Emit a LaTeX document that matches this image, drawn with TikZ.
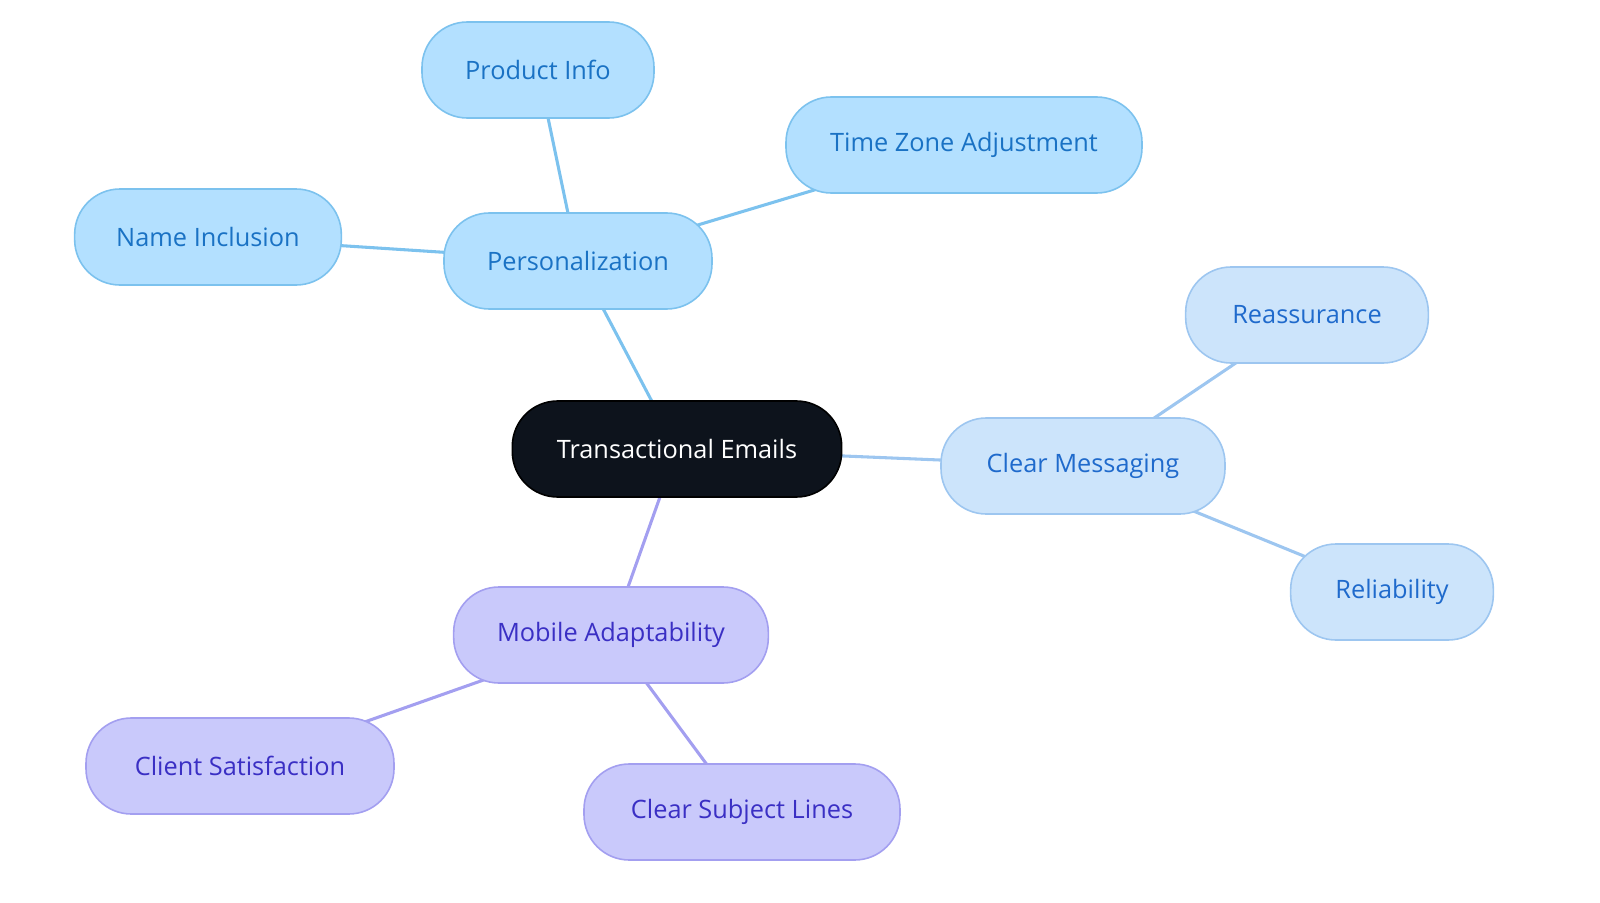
\documentclass[tikz,border=0pt]{standalone}
\usepackage{fontspec}
\setmainfont{Open Sans}
\usetikzlibrary{backgrounds}
\begin{document}
\begin{tikzpicture}[x=0.75pt,y=-0.75pt,
  base/.style={draw,line width=1.2pt,rounded corners=34pt,minimum height=72pt,font=\fontsize{19}{22}\selectfont,inner sep=0pt},
  bl/.style={base,fill=blueF,draw=blueD,text=blueT},
  lb/.style={base,fill=lbF,draw=lbD,text=lbT},
  pu/.style={base,fill=puF,draw=puD,text=puT},
  eb/.style={draw=blueD,line width=2.3pt},
  el/.style={draw=lbD,line width=2.3pt},
  ep/.style={draw=puD,line width=2.3pt}]
\definecolor{blueF}{HTML}{B3E0FF}\definecolor{blueD}{HTML}{7CC2EE}\definecolor{blueT}{HTML}{1A72C4}
\definecolor{lbF}{HTML}{CCE4FB}\definecolor{lbD}{HTML}{9DC6F0}\definecolor{lbT}{HTML}{1F6ACC}
\definecolor{puF}{HTML}{C9C9FB}\definecolor{puD}{HTML}{A39FF0}\definecolor{puT}{HTML}{3A2FC4}
\definecolor{teF}{HTML}{0D131C}
\useasboundingbox (0,0) rectangle (1600,903);
\node[base,fill=teF,draw=black,text=white,minimum width=247pt] (te) at (677,449) {Transactional Emails};
\node[bl,minimum width=201pt] (pe) at (578,261) {Personalization};
\node[bl,minimum width=174pt] (pi) at (538,70) {Product Info};
\node[bl,minimum width=267pt] (tz) at (964,145) {Time Zone Adjustment};
\node[bl,minimum width=200pt] (ni) at (208,237) {Name Inclusion};
\node[lb,minimum width=213pt] (cm) at (1083,466) {Clear Messaging};
\node[lb,minimum width=182pt] (re) at (1307,315) {Reassurance};
\node[lb,minimum width=152pt] (rl) at (1392,592) {Reliability};
\node[pu,minimum width=236pt] (ma) at (611,635) {Mobile Adaptability};
\node[pu,minimum width=231pt] (cs) at (240,766) {Client Satisfaction};
\node[pu,minimum width=237pt] (sl) at (742,812) {Clear Subject Lines};
\begin{scope}[on background layer]
\path[eb] (te.center) -- (pe.center); \path[eb] (pe.center) -- (pi.center); \path[eb] (pe.center) -- (tz.center); \path[eb] (pe.center) -- (ni.center);
\path[el] (te.center) -- (cm.center); \path[el] (cm.center) -- (re.center); \path[el] (cm.center) -- (rl.center);
\path[ep] (te.center) -- (ma.center); \path[ep] (ma.center) -- (cs.center); \path[ep] (ma.center) -- (sl.center);
\end{scope}
\end{tikzpicture}
\end{document}
